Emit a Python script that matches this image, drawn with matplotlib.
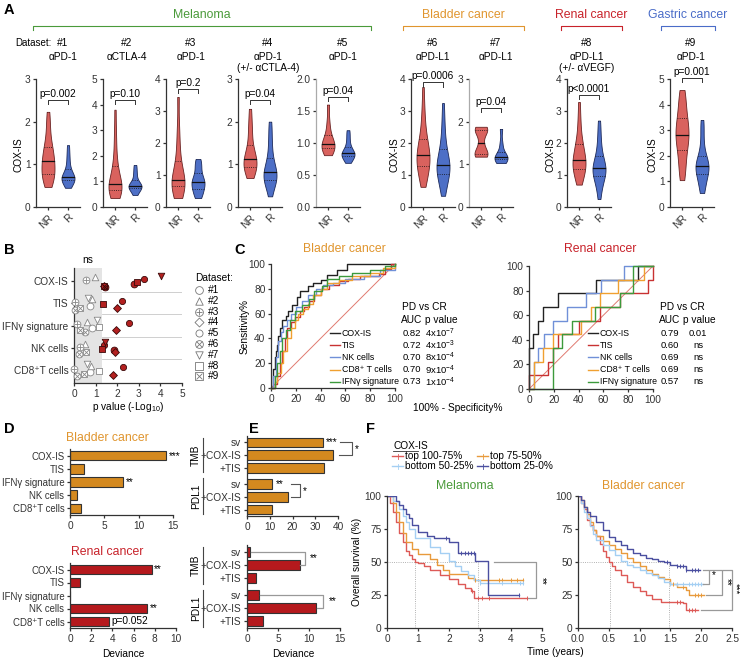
import numpy as np
import matplotlib
matplotlib.use('Agg')
import matplotlib.pyplot as plt
from matplotlib import cbook, mlab

plt.rcParams['font.family'] = ['Liberation Sans', 'DejaVu Sans']
plt.rcParams['mathtext.fontset'] = 'custom'
plt.rcParams['mathtext.rm'] = 'Liberation Sans'
plt.rcParams['mathtext.it'] = 'Liberation Sans:italic'
plt.rcParams['font.size'] = 7.3
plt.rcParams['axes.linewidth'] = 0.9
plt.rcParams['axes.edgecolor'] = '#333333'
for a in ['xtick', 'ytick']:
    plt.rcParams[a + '.major.size'] = 2.5
    plt.rcParams[a + '.major.width'] = 0.9
    plt.rcParams[a + '.major.pad'] = 1.5
    plt.rcParams[a + '.color'] = '#333333'
    plt.rcParams[a + '.labelsize'] = 7.3

# ---------------- data ----------------
# A: COX-IS per dataset (NR / R)
ds_ids = ['#1', '#2', '#3', '#4', '#5', '#6', '#7', '#8', '#9']
ds_drug = ['αPD-1', 'αCTLA-4', 'αPD-1', 'αPD-1\n(+/- αCTLA-4)', 'αPD-1',
           'αPD-L1', 'αPD-L1', 'αPD-L1\n(+/- αVEGF)', 'αPD-1']
ds_p = ['p=0.002', 'p=0.10', 'p=0.2', 'p=0.04', 'p=0.04',
        'p=0.0006', 'p=0.04', 'p<0.0001', 'p=0.001']
ds_ymax = [3, 5, 4, 3, 2, 4, 3, 4, 5]
nr_vals = [
    [0.47, 0.55, 0.62, 0.7, 0.72, 0.8, 0.85, 0.9, 0.95, 1.05, 1.12, 1.15, 1.2, 1.3, 1.4, 1.45, 1.6, 1.8, 2.0, 2.23],
    [0.35, 0.45, 0.55, 0.6, 0.65, 0.7, 0.75, 0.8, 0.85, 0.9, 1.0, 1.1, 1.3, 1.5, 1.7, 2.0, 2.5, 3.0, 3.8],
    [0.28, 0.4, 0.5, 0.6, 0.7, 0.75, 0.8, 0.85, 0.95, 1.1, 1.3, 1.6, 2.0, 2.5, 3.44],
    [0.68, 0.75, 0.85, 0.9, 0.95, 1.0, 1.05, 1.1, 1.15, 1.2, 1.3, 1.4, 1.6, 1.8, 2.0, 2.3],
    [0.81, 0.85, 0.9, 0.93, 0.95, 0.97, 1.0, 1.05, 1.1, 1.2, 1.35, 1.6],
    [0.63, 0.8, 0.9, 1.0, 1.1, 1.2, 1.3, 1.35, 1.4, 1.5, 1.55, 1.6, 1.65, 1.7, 1.8, 1.9, 2.0, 2.1, 2.2, 2.4, 2.6, 2.9, 3.2, 3.75],
    [1.18, 1.22, 1.25, 1.3, 1.5, 1.75, 1.8, 1.85, 1.88],
    [0.7, 0.85, 0.95, 1.05, 1.15, 1.2, 1.3, 1.35, 1.4, 1.44, 1.5, 1.6, 1.7, 1.8, 1.95, 2.0, 2.2, 2.5, 2.8, 3.28],
    [1.05, 1.4, 1.7, 2.0, 2.3, 2.5, 2.7, 2.75, 2.9, 3.1, 3.3, 3.4, 3.7, 4.0, 4.3, 4.57],
]
r_vals = [
    [0.45, 0.52, 0.58, 0.62, 0.65, 0.66, 0.68, 0.7, 0.72, 0.78, 0.85, 0.95, 1.1, 1.25, 1.45],
    [0.47, 0.6, 0.7, 0.75, 0.8, 0.82, 0.85, 0.9, 1.0, 1.2, 1.4, 1.64],
    [0.28, 0.4, 0.5, 0.6, 0.7, 0.75, 0.8, 0.9, 1.0, 1.2, 1.35, 1.5],
    [0.25, 0.45, 0.55, 0.6, 0.65, 0.7, 0.75, 0.8, 0.85, 0.9, 1.0, 1.1, 1.3, 1.5, 1.75, 2.0],
    [0.69, 0.74, 0.78, 0.8, 0.82, 0.83, 0.85, 0.88, 0.92, 1.0, 1.1, 1.2],
    [0.35, 0.55, 0.7, 0.8, 0.9, 1.0, 1.1, 1.15, 1.2, 1.25, 1.3, 1.35, 1.4, 1.5, 1.6, 1.7, 1.85, 2.0, 2.2, 2.5, 2.8, 3.25],
    [1.03, 1.08, 1.12, 1.15, 1.17, 1.2, 1.3, 1.5, 1.83],
    [0.25, 0.5, 0.7, 0.8, 0.9, 1.0, 1.05, 1.1, 1.15, 1.2, 1.25, 1.3, 1.35, 1.45, 1.55, 1.7, 1.9, 2.1, 2.4, 2.7],
    [0.55, 0.8, 1.0, 1.2, 1.35, 1.45, 1.55, 1.6, 1.65, 1.75, 1.9, 2.1, 2.5, 3.0, 3.4],
]

# B: -log10 p per signature, datasets #1..#9
b_sigs = ['COX-IS', 'TIS', 'IFNγ signature', 'NK cells', 'CD8⁺T cells']
b_logp = [
    [2.78, 0.95, 0.55, 1.4, 3.24, 1.42, 4.03, 2.9, 1.38],
    [0.72, 0.83, 0.06, 2.0, 2.2, 0.05, 0.63, 1.32, 0.3],
    [0.85, 0.62, 0.12, 1.96, 2.55, 0.53, 1.05, 1.18, 0.3],
    [1.85, 0.5, 0.3, 1.9, 1.4, 0.25, 1.42, 1.3, 0.55],
    [0.72, 0.77, 0.0, 1.8, 2.27, 0.12, 0.62, 1.18, 0.45],
]

# C: ROC curves (1-specificity %, sensitivity %)
roc_names = ['COX-IS', 'TIS', 'NK cells', 'CD8⁺ T cells', 'IFNγ signature']
bl_fpr = [
    [0, 2, 3, 4, 5, 6, 7, 9, 12, 14, 17, 21, 23, 30, 34, 40, 45, 53, 61, 100],
    [0, 3, 5, 7, 9, 11, 13, 16, 19, 23, 27, 31, 35, 40, 47, 55, 62, 72, 87, 92, 97, 100],
    [0, 2, 4, 6, 8, 10, 13, 16, 20, 25, 30, 36, 42, 50, 60, 75, 88, 100],
    [0, 3, 5, 8, 10, 13, 16, 19, 22, 26, 30, 34, 40, 45, 55, 65, 80, 90, 100],
    [0, 3, 5, 7, 9, 12, 15, 19, 25, 31, 35, 41, 45, 55, 65, 80, 92, 100],
]
bl_tpr = [
    [0, 15, 25, 30, 35, 42, 48, 55, 58, 62, 67, 73, 78, 82, 85, 87, 91, 95, 100, 100],
    [0, 3, 10, 20, 30, 40, 48, 53, 57, 62, 65, 70, 75, 80, 83, 86, 88, 90, 92, 96, 100, 100],
    [0, 10, 25, 38, 45, 50, 55, 60, 65, 70, 75, 80, 83, 85, 88, 90, 95, 100],
    [0, 5, 12, 20, 30, 40, 48, 55, 60, 64, 68, 75, 80, 85, 87, 90, 93, 97, 100],
    [0, 10, 20, 30, 40, 47, 55, 62, 67, 72, 78, 82, 88, 90, 93, 95, 98, 100],
]
bl_auc = ['0.82', '0.72', '0.70', '0.70', '0.73']
bl_p = ['4x10$^{-7}$', '4x10$^{-3}$', '8x10$^{-4}$', '9x10$^{-4}$', '1x10$^{-4}$']
rn_fpr = [
    [0, 0, 3.5, 7.5, 11.5, 23, 54, 88, 100],
    [0, 0, 15, 19, 23, 40, 57, 73, 96, 100],
    [0, 4, 7.5, 12, 19, 31, 46, 58, 77, 100],
    [0, 4, 11.5, 19, 42, 50, 57, 72, 93, 100],
    [0, 19, 27, 35, 53, 73, 84, 100],
]
rn_tpr = [
    [0, 33.3, 44.4, 55.6, 66.7, 77.8, 88.9, 100, 100],
    [0, 11.1, 22.2, 33.3, 44.4, 55.6, 66.7, 77.8, 88.9, 100],
    [0, 22.2, 33.3, 44.4, 55.6, 66.7, 77.8, 88.9, 100, 100],
    [0, 22.2, 33.3, 44.4, 55.6, 66.7, 77.8, 88.9, 100, 100],
    [0, 33.3, 44.4, 55.6, 66.7, 77.8, 100, 100],
]
rn_auc = ['0.79', '0.60', '0.69', '0.69', '0.57']
rn_p = ['0.01', 'ns', 'ns', 'ns', 'ns']

# D: deviance per signature
d_sigs = ['COX-IS', 'TIS', 'IFNγ signature', 'NK cells', 'CD8⁺T cells']
d_bladder = [14.0, 2.0, 7.7, 1.0, 1.6]
d_bladder_sig = ['***', '', '**', '', '']
d_renal = [7.7, 0.9, 0.0, 7.3, 3.7]
d_renal_sig = ['**', '', '', '**', 'p=0.052']

# E: deviance of models
e_models = ['sv', '+COX-IS', '+TIS', 'sv', '+COX-IS', '+TIS']
e_bladder = [33.5, 38.0, 34.0, 11.0, 18.0, 11.0]
e_renal = [0.5, 8.5, 1.5, 2.0, 11.2, 2.5]

# F: Kaplan-Meier, quartile groups
km_groups = ['top 100-75%', 'top 75-50%', 'bottom 50-25%', 'bottom 25-0%']
mel_t = [
    [0, 0.1, 0.2, 0.3, 0.4, 0.5, 0.6, 0.7, 0.8, 0.9, 1.0, 1.2, 1.4, 1.7, 2.0, 2.3, 2.5, 2.7, 2.8, 4.5],
    [0, 0.2, 0.3, 0.4, 0.5, 0.6, 0.8, 1.0, 1.3, 1.4, 1.6, 1.8, 2.0, 2.3, 2.6, 2.8, 4.4],
    [0, 0.2, 0.4, 0.5, 0.6, 0.7, 0.9, 1.4, 1.7, 2.0, 2.2, 2.4, 2.6, 2.8, 3.0, 4.4],
    [0, 0.3, 0.4, 0.5, 0.6, 0.7, 0.8, 1.0, 1.3, 1.5, 2.0, 2.3, 2.85, 3.25, 4.25],
]
mel_s = [
    [100, 95, 88, 80, 72, 65, 58, 55, 52, 50, 49, 47, 44, 40, 37, 33, 30, 28, 23, 23],
    [100, 95, 88, 80, 72, 65, 60, 56, 56, 52, 48, 44, 41, 41, 38, 36, 36],
    [100, 96, 90, 85, 80, 75, 68, 61, 57, 51, 47, 43, 40, 36, 34, 34],
    [100, 96, 93, 90, 86, 83, 78, 73, 70, 68, 65, 57, 51, 25, 25],
]
mel_cens = [[2.75, 2.95, 3.05, 3.3, 4.5], [2.85, 3.6, 3.7, 4.0, 4.2, 4.4],
            [3.0, 3.7, 4.3, 4.4], [1.9, 2.4, 2.5, 2.6, 2.7, 2.8, 4.25]]
bla_t = [
    [0, 0.05, 0.1, 0.15, 0.2, 0.25, 0.3, 0.35, 0.4, 0.45, 0.5, 0.55, 0.6, 0.7, 0.8, 0.9, 1.0, 1.1, 1.2, 1.35, 1.7, 1.75, 1.95],
    [0, 0.05, 0.1, 0.15, 0.2, 0.25, 0.3, 0.4, 0.5, 0.6, 0.7, 0.8, 0.9, 1.0, 1.1, 1.2, 1.3, 1.4, 1.5, 1.6, 1.75, 1.8, 2.05],
    [0, 0.05, 0.1, 0.15, 0.2, 0.25, 0.3, 0.4, 0.5, 0.6, 0.7, 0.8, 0.9, 1.0, 1.1, 1.2, 1.3, 1.4, 1.5, 1.6, 2.03],
    [0, 0.05, 0.1, 0.15, 0.2, 0.3, 0.4, 0.5, 0.6, 0.7, 0.8, 0.9, 1.0, 1.1, 1.2, 1.3, 1.4, 1.5, 1.6, 1.75, 1.98],
]
bla_s = [
    [100, 95, 90, 82, 78, 74, 70, 64, 58, 54, 50, 47, 44, 40, 35, 31, 28, 25, 22, 20, 19, 14, 14],
    [100, 97, 92, 86, 80, 74, 70, 66, 63, 60, 57, 53, 50, 47, 44, 41, 39, 37, 33, 31, 29, 25, 25],
    [100, 95, 88, 83, 77, 71, 67, 63, 59, 55, 51, 48, 46, 44, 42, 40, 38, 35, 33, 33, 33],
    [100, 97, 92, 88, 85, 80, 74, 69, 66, 63, 60, 57, 55, 53, 52, 51, 50, 48, 47, 44, 44],
]
bla_cens = [[1.6, 1.65, 1.8, 1.85, 1.9], [1.55, 1.7, 1.9, 1.95, 2.0],
            [1.5, 1.6, 1.7, 1.8, 1.85, 1.9, 1.95, 2.0], [1.45, 1.6, 1.65, 1.7, 1.75, 1.85, 1.9, 1.95]]

# ---------------- styling ----------------
GREEN, ORANGE, RED, BLUE = '#4a9a3a', '#e0952e', '#c8222a', '#4a6cc8'
NR_C, NR_E = '#d9625e', '#6a2424'
R_C, R_E = '#4d6fc6', '#1d2a5a'
BAR_OR, BAR_RD = '#d4891f', '#b5191d'
ROC_C = ['#222222', '#c83232', '#7090d8', '#f0a030', '#3c9a3c']
KM_C = ['#dd5a57', '#e89a3c', '#a4cff3', '#4b4fa0']

W, H = 740, 658
fig = plt.figure(figsize=(W / 100, H / 100), dpi=100)

# transparent overlay in pixel units for titles, legends and brackets
ov = fig.add_axes([0, 0, 1, 1])
ov.set_xlim(0, W)
ov.set_ylim(H, 0)
ov.axis('off')
ov.patch.set_visible(False)
ov.set_zorder(10)


def add_ax(x0, y0, x1, y1):
    return fig.add_axes([x0 / W, 1 - y1 / H, (x1 - x0) / W, (y1 - y0) / H])


def txt(x, y, s, **kw):
    kw.setdefault('ha', 'center')
    kw.setdefault('va', 'center')
    ov.text(x, y, s, **kw)


def prism(ax):
    ax.spines['top'].set_visible(False)
    ax.spines['right'].set_visible(False)


# panel letters
for s, x, y in [('A', 4, 10), ('B', 4, 250), ('C', 234, 250), ('D', 4, 429), ('E', 249, 429), ('F', 366, 429)]:
    txt(x, y, s, ha='left', fontsize=10.5, fontweight='bold')

# ---------------- A ----------------
for name, col, x0, x1 in [('Melanoma', GREEN, 33, 371), ('Bladder cancer', ORANGE, 403, 524),
                          ('Renal cancer', RED, 561, 622), ('Gastric cancer', BLUE, 661, 715)]:
    ov.plot([x0, x0, x1, x1], [30, 26, 26, 30], color=col, lw=0.8)
    txt((x0 + x1) / 2, 15, name, color=col, fontsize=8.8)

a_left = [36, 103, 166, 238, 316, 411, 469, 567, 670]
a_title_x = [63, 127, 191, 268, 343, 433, 496, 587, 691]
a_pbar = [2.51, 4.18, 3.69, 2.51, 1.72, 3.9, 2.32, 3.5, 5.04]
a_grey = [False, False, False, False, True, False, True, False, False]
txt(15, 43, 'Dataset:', ha='left', fontsize=7)


def kde(X, coords):
    return mlab.GaussianKDE(X, 0.45).evaluate(coords)


VW = 0.65
for i in range(9):
    txt(a_title_x[i], 43, ds_ids[i])
    txt(a_title_x[i], 57.5 if '\n' not in ds_drug[i] else 62.5, ds_drug[i], linespacing=1.15)
    ax = add_ax(a_left[i], 79, a_left[i] + 44, 207)
    prism(ax)
    data = [np.array(nr_vals[i]), np.array(r_vals[i])]
    st = cbook.violin_stats(data, kde, points=150)
    parts = ax.violin(st, positions=[0, 1], widths=VW, showmeans=False,
                      showextrema=False, showmedians=False)
    for b, fc, ec in zip(parts['bodies'], [NR_C, R_C], [NR_E, R_E]):
        b.set_facecolor(fc)
        b.set_edgecolor(ec)
        b.set_alpha(1)
        b.set_linewidth(0.6)
    for p, s, d in zip([0, 1], st, data):
        for q, ls, lw in [(25, ':', 0.6), (50, '-', 0.9), (75, ':', 0.6)]:
            y = np.percentile(d, q)
            hw = VW / 2 * np.interp(y, s['coords'], s['vals']) / s['vals'].max()
            ax.plot([p - hw, p + hw], [y, y], color='#111111', ls=ls, lw=lw)
    ax.set_xlim(-0.6, 1.6)
    ax.set_ylim(0, ds_ymax[i])
    if ds_ymax[i] == 2:
        ax.set_yticks([0, 0.5, 1.0, 1.5, 2.0])
        ax.set_yticklabels(['0.0', '0.5', '1.0', '1.5', '2.0'])
    else:
        ax.set_yticks(range(ds_ymax[i] + 1))
    ax.set_xticks([0, 1])
    ax.set_xticklabels(['NR', 'R'], rotation=45, ha='right', rotation_mode='anchor')
    if a_grey[i]:
        ax.spines['left'].set_color('#aaaaaa')
    yb = a_pbar[i]
    dy = ds_ymax[i] * 0.035
    ax.plot([0, 0, 1, 1], [yb - dy, yb, yb, yb - dy], color='#333333', lw=0.7, clip_on=False)
    ax.text(0.5, yb + ds_ymax[i] * 0.01, ds_p[i], ha='center', va='bottom')
    if i in (0, 5, 7, 8):
        txt(a_left[i] - 17, 155, 'COX-IS', rotation=90)

# ---------------- B ----------------
axb = add_ax(74, 268, 182, 383)
prism(axb)
axb.axvspan(0, 1.3, color='#e4e4e4', lw=0, zorder=0)
for yy in [0.5, 1.5, 2.5, 3.5]:
    axb.plot([1.3, 5], [yy, yy], color='#c8c8c8', lw=0.6, zorder=1)
b_mark = ['o', '^', 'o', 'D', 'o', 'o', 'v', 's', 's']
b_over = [None, None, '+', None, None, 'x', None, None, 'x']
b_size = [24, 22, 24, 16, 20, 24, 22, 20, 22]
b_off = [0.12, -0.18, -0.05, 0.22, -0.12, 0.28, -0.25, 0.05, 0.2]
for r, row in enumerate(b_logp):
    for k, v in enumerate(row):
        filled = v >= 1.3
        fc = '#b3201f' if filled else 'white'
        ec = '#3a0a0a' if filled else '#888888'
        axb.scatter(v, r + b_off[k], marker=b_mark[k], s=b_size[k], facecolor=fc,
                    edgecolor=ec, lw=0.6, zorder=3, clip_on=False)
        if b_over[k]:
            axb.scatter(v, r + b_off[k], marker=b_over[k], s=b_size[k] * 0.6,
                        color=ec, lw=0.6, zorder=4, clip_on=False)
axb.set_xlim(0, 5)
axb.set_ylim(4.6, -0.6)
axb.set_yticks(range(5))
axb.set_yticklabels(b_sigs)
axb.set_xticks(range(6))
axb.set_xlabel('p value (-Log$_{10}$)', labelpad=1)
axb.text(0.65, -0.75, 'ns', ha='center', va='bottom')

txt(195, 278, 'Dataset:', ha='left')
for k in range(9):
    yk = 290 + 10.8 * k
    ov.scatter(199, yk, marker=b_mark[k], s=b_size[k] * 1.3, facecolor='white', edgecolor='#777777', lw=0.6)
    if b_over[k]:
        ov.scatter(199, yk, marker=b_over[k], s=b_size[k] * 0.8, color='#777777', lw=0.6)
    txt(208, yk, ds_ids[k], ha='left')

# ---------------- C ----------------
for box, fprs, tprs, title, tcol, tx, leg_x, auc_x, p_x, aucs, ps in [
        ((271, 264, 395, 388), bl_fpr, bl_tpr, 'Bladder cancer', ORANGE, 344, 330, 412, 440, bl_auc, bl_p),
        ((529, 266, 653, 389), rn_fpr, rn_tpr, 'Renal cancer', RED, 600, 588, 670, 698, rn_auc, rn_p)]:
    ax = add_ax(*box)
    prism(ax)
    ax.plot([0, 100], [0, 100], color='#e07a70', lw=0.7)
    for f, t, c in zip(fprs, tprs, ROC_C):
        ax.step(f, t, where='post', color=c, lw=1.0, clip_on=False)
    ax.set_xlim(0, 100)
    ax.set_ylim(0, 100)
    ax.set_xticks(range(0, 101, 20))
    ax.set_yticks(range(0, 101, 20))
    txt(tx, 249, title, color=tcol, fontsize=8.8)
    txt((auc_x + p_x) / 2 - 2, 307, 'PD vs CR')
    txt(auc_x, 320, 'AUC')
    txt(p_x + 1, 320, 'p value')
    for j, nm in enumerate(roc_names):
        yj = [333, 345, 357, 370, 382][j]
        ov.plot([leg_x, leg_x + 10], [yj, yj], color=ROC_C[j], lw=1.0)
        txt(leg_x + 12, yj, nm, ha='left', fontsize=6.3)
        txt(auc_x, yj, aucs[j], fontsize=6.8)
        txt(p_x, yj, ps[j], fontsize=6.8)
txt(245, 326, 'Sensitivity%', rotation=90)
txt(458, 408, '100% - Specificity%')

# ---------------- D ----------------
for box, vals, sig, col, xmax, xt, title, tcol, ty, show_xl in [
        ((70, 449, 173, 515), d_bladder, d_bladder_sig, BAR_OR, 15, [0, 5, 10, 15], 'Bladder cancer', ORANGE, 438, False),
        ((70, 563, 176, 628), d_renal, d_renal_sig, BAR_RD, 10, [0, 2, 4, 6, 8, 10], 'Renal cancer', RED, 552, True)]:
    ax = add_ax(*box)
    prism(ax)
    ypos = np.arange(len(vals))
    ax.barh(ypos, vals, height=0.72, color=col, edgecolor='#333333', lw=0.8)
    for yy, v, s in zip(ypos, vals, sig):
        if s:
            ax.text(v + xmax * 0.025, yy, s, va='center', ha='left')
    ax.set_xlim(0, xmax)
    ax.set_ylim(4.5, -0.5)
    ax.set_yticks(ypos)
    ax.set_yticklabels(d_sigs, fontsize=6.9)
    ax.set_xticks(xt)
    if show_xl:
        ax.set_xlabel('Deviance', labelpad=4)
    txt(107, ty, title, color=tcol, fontsize=8.8)

# ---------------- E ----------------
e_pos = [0, 1, 2, 3.25, 4.25, 5.25]
for box, vals, col, xmax, xt, vl in [
        ((247, 436, 338, 516), e_bladder, BAR_OR, 40, [0, 10, 20, 30, 40], [(438, 472), (478, 514)]),
        ((247, 545, 340, 628), e_renal, BAR_RD, 15, [0, 5, 10, 15], [(547, 584), (590, 627)])]:
    ax = add_ax(*box)
    prism(ax)
    ax.barh(e_pos, vals, height=0.75, color=col, edgecolor='#333333', lw=0.8)
    ax.set_xlim(0, xmax)
    ax.set_ylim(5.75, -0.5)
    ax.set_yticks(e_pos)
    ax.set_yticklabels(e_models)
    ax.set_xticks(xt)
    for (y0, y1), lab in zip(vl, ['TMB', 'PDL1']):
        ov.plot([203, 203], [y0, y1], color='#444444', lw=0.8)
        txt(196, (y0 + y1) / 2, lab, rotation=90)
    if xmax == 40:
        ax.text(vals[0] + 1.2, 0, '***', va='center')
        ax.plot([41, 46, 46, 40.5], [0, 0, 1, 1], color='#555555', lw=0.8, clip_on=False)
        ax.text(47.5, 0.55, '*', va='center')
        ax.text(vals[3] + 1.5, 3.25, '**', va='center')
        ax.plot([19.5, 23.2, 23.2, 19.5], [3.25, 3.25, 4.25, 4.25], color='#555555', lw=0.8, clip_on=False)
        ax.text(24.5, 3.8, '*', va='center')
    else:
        ax.plot([vals[0] + 0.1, 9.35, 9.35, vals[1] + 0.1], [0, 0, 1, 1], color='#999999', lw=0.9, clip_on=False)
        ax.text(10.2, 0.5, '**', va='center')
        ax.plot([vals[3] + 0.1, 12.3, 12.3, vals[4] + 0.1], [3.25, 3.25, 4.25, 4.25], color='#999999', lw=0.9, clip_on=False)
        ax.text(13.2, 3.75, '**', va='center')
        ax.set_xlabel('Deviance', labelpad=4)

# ---------------- F ----------------
txt(393, 446, 'COX-IS', ha='left')
ov.plot([393, 418], [451, 451], color='#333333', lw=0.6)
for j, (lx, ly) in enumerate([(392, 456), (477, 456), (392, 466), (477, 466)]):
    ov.plot([lx, lx + 11], [ly, ly], color=KM_C[j], lw=1.0)
    ov.plot([lx + 5.5, lx + 5.5], [ly - 2.5, ly + 2.5], color=KM_C[j], lw=0.6)
    txt(lx + 13, ly, km_groups[j], ha='left')


def km_step(ax, t, s, c, cens):
    ax.step(t, s, where='post', color=c, lw=1.0)
    t = np.array(t)
    s = np.array(s)
    cs = s[np.searchsorted(t, cens, side='right') - 1]
    ax.scatter(cens, cs, marker='|', s=12, color=c, lw=0.7, zorder=3)


for box, ts, ss, cens, xmax, xt, xtl, title, tcol, dots in [
        ((387, 496, 542, 628), mel_t, mel_s, mel_cens, 5, range(6), [str(v) for v in range(6)],
         'Melanoma', GREEN, [0.9, 2.95]),
        ((578, 496, 732, 628), bla_t, bla_s, bla_cens, 2.5, np.arange(0, 2.6, 0.5),
         ['0.0', '0.5', '1.0', '1.5', '2.0', '2.5'], 'Bladder cancer', ORANGE, [0.52, 1.48])]:
    ax = add_ax(*box)
    prism(ax)
    ax.plot([0, dots[1]], [50, 50], color='#999999', lw=0.6, ls=':')
    for d in dots:
        ax.plot([d, d], [0, 50], color='#999999', lw=0.6, ls=':')
    for t, s, c, ce in zip(ts, ss, KM_C, cens):
        km_step(ax, t, s, c, ce)
    ax.set_xlim(0, xmax)
    ax.set_ylim(0, 100)
    ax.set_xticks(xt)
    ax.set_xticklabels(xtl)
    ax.set_yticks([0, 25, 50, 75, 100])
    txt((box[0] + box[2]) / 2 - (0 if xmax == 5 else 12), 486, title, color=tcol, fontsize=8.8)
    if xmax == 5:
        ax.set_ylabel('Overall survival (%)', labelpad=2)
        ax.plot([3.45, 4.8, 4.8, 4.55], [50, 50, 23, 23], color='#999999', lw=0.9, clip_on=False)
        ax.text(5.0, 36, '**', rotation=270, ha='center', va='center')
    else:
        ax.plot([2.03, 2.12, 2.12, 2.03], [44, 44, 33, 33], color='#999999', lw=0.9, clip_on=False)
        ax.text(2.2, 40, '*', ha='center', va='center')
        ax.plot([2.15, 2.33, 2.33, 2.08], [44, 44, 25, 25], color='#999999', lw=0.9, clip_on=False)
        ax.text(2.42, 35, '**', rotation=270, ha='center', va='center')
        ax.plot([2.36, 2.5, 2.5, 1.99], [44, 44, 14, 14], color='#999999', lw=0.9, clip_on=False)
        ax.text(2.56, 30, '***', rotation=270, ha='center', va='center', fontsize=6.8)
txt(555, 652, 'Time (years)')

fig.savefig('out.png', dpi=100)
